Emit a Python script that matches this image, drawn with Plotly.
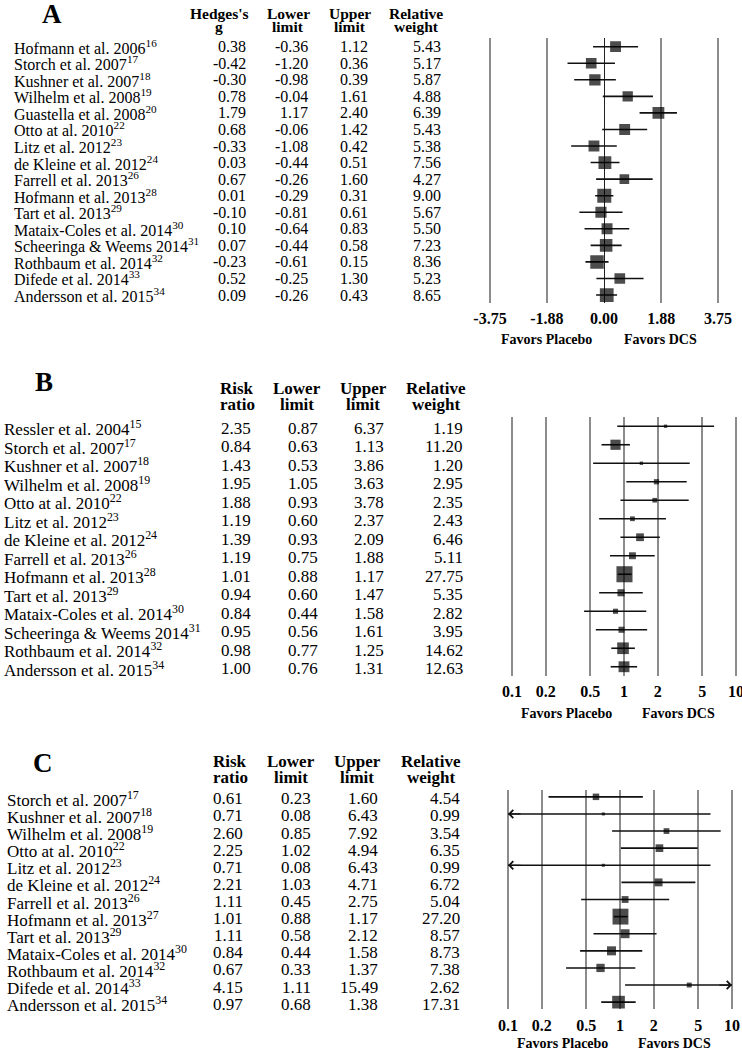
import numpy as np
import plotly.graph_objects as go

W, H = 742, 1050
SERIF = "Liberation Serif"

# ---------------- Panel A : Hedges's g ----------------
studies_a = ["Hofmann et al. 2006", "Storch et al. 2007", "Kushner et al. 2007", "Wilhelm et al. 2008",
             "Guastella et al. 2008", "Otto at al. 2010", "Litz et al. 2012", "de Kleine et al. 2012",
             "Farrell et al. 2013", "Hofmann et al. 2013", "Tart et al. 2013", "Mataix-Coles et al. 2014",
             "Scheeringa & Weems 2014", "Rothbaum et al. 2014", "Difede et al. 2014", "Andersson et al. 2015"]
refs_a = ["16", "17", "18", "19", "20", "22", "23", "24", "26", "28", "29", "30", "31", "32", "33", "34"]
g_a = [0.38, -0.42, -0.30, 0.78, 1.79, 0.68, -0.33, 0.03, 0.67, 0.01, -0.10, 0.10, 0.07, -0.23, 0.52, 0.09]
lo_a = [-0.36, -1.20, -0.98, -0.04, 1.17, -0.06, -1.08, -0.44, -0.26, -0.29, -0.81, -0.64, -0.44, -0.61, -0.25, -0.26]
hi_a = [1.12, 0.36, 0.39, 1.61, 2.40, 1.42, 0.42, 0.51, 1.60, 0.31, 0.61, 0.83, 0.58, 0.15, 1.30, 0.43]
w_a = [5.43, 5.17, 5.87, 4.88, 6.39, 5.43, 5.38, 7.56, 4.27, 9.00, 5.67, 5.50, 7.23, 8.36, 5.23, 8.65]
ticks_a = [-3.75, -1.88, 0.00, 1.88, 3.75]

# ---------------- Panel B : Risk ratio ----------------
studies_b = ["Ressler et al. 2004", "Storch et al. 2007", "Kushner et al. 2007", "Wilhelm et al. 2008",
             "Otto at al. 2010", "Litz et al. 2012", "de Kleine et al. 2012", "Farrell et al. 2013",
             "Hofmann et al. 2013", "Tart et al. 2013", "Mataix-Coles et al. 2014", "Scheeringa & Weems 2014",
             "Rothbaum et al. 2014", "Andersson et al. 2015"]
refs_b = ["15", "17", "18", "19", "22", "23", "24", "26", "28", "29", "30", "31", "32", "34"]
rr_b = [2.35, 0.84, 1.43, 1.95, 1.88, 1.19, 1.39, 1.19, 1.01, 0.94, 0.84, 0.95, 0.98, 1.00]
lo_b = [0.87, 0.63, 0.53, 1.05, 0.93, 0.60, 0.93, 0.75, 0.88, 0.60, 0.44, 0.56, 0.77, 0.76]
hi_b = [6.37, 1.13, 3.86, 3.63, 3.78, 2.37, 2.09, 1.88, 1.17, 1.47, 1.58, 1.61, 1.25, 1.31]
w_b = [1.19, 11.20, 1.20, 2.95, 2.35, 2.43, 6.46, 5.11, 27.75, 5.35, 2.82, 3.95, 14.62, 12.63]

# ---------------- Panel C : Risk ratio ----------------
studies_c = ["Storch et al. 2007", "Kushner et al. 2007", "Wilhelm et al. 2008", "Otto at al. 2010",
             "Litz et al. 2012", "de Kleine et al. 2012", "Farrell et al. 2013", "Hofmann et al. 2013",
             "Tart et al. 2013", "Mataix-Coles et al. 2014", "Rothbaum et al. 2014", "Difede et al. 2014",
             "Andersson et al. 2015"]
refs_c = ["17", "18", "19", "22", "23", "24", "26", "27", "29", "30", "32", "33", "34"]
rr_c = [0.61, 0.71, 2.60, 2.25, 0.71, 2.21, 1.11, 1.01, 1.11, 0.84, 0.67, 4.15, 0.97]
lo_c = [0.23, 0.08, 0.85, 1.02, 0.08, 1.03, 0.45, 0.88, 0.58, 0.44, 0.33, 1.11, 0.68]
hi_c = [1.60, 6.43, 7.92, 4.94, 6.43, 4.71, 2.75, 1.17, 2.12, 1.58, 1.37, 15.49, 1.38]
w_c = [4.54, 0.99, 3.54, 6.35, 0.99, 6.72, 5.04, 27.20, 8.57, 8.73, 7.38, 2.62, 17.31]

ticks_rr = [0.1, 0.2, 0.5, 1, 2, 5, 10]


def fx(p):
    return p / W


def fy(p):
    return 1 - p / H


panels = [
    dict(letter="A", names=studies_a, refs=refs_a, est=g_a, lo=lo_a, hi=hi_a, wt=w_a,
         head1=["Hedges's", "Lower", "Upper", "Relative"], head2=["g", "limit", "limit", "weight"],
         xa="x", ya="y", log=False, clip=None, ksize=4.67,
         letter_xy=(52, 14), head_x=[219, 288, 350, 416], head_y=(13, 27), head_size=15.5,
         name_x=12, col_x=[248, 310, 370, 443], font=16, yshift=0,
         fav_x=(546, 660), fav_y=340),
    dict(letter="B", names=studies_b, refs=refs_b, est=rr_b, lo=lo_b, hi=hi_b, wt=w_b,
         head1=["Risk", "Lower", "Upper", "Relative"], head2=["ratio", "limit", "limit", "weight"],
         xa="x2", ya="y2", log=True, clip=(0.1, 10), ksize=3.05,
         letter_xy=(44, 382), head_x=[237, 297, 363, 436], head_y=(388, 404), head_size=17,
         name_x=2, col_x=[253, 320, 386, 465], font=17, yshift=-2,
         fav_x=(566, 678), fav_y=713),
    dict(letter="C", names=studies_c, refs=refs_c, est=rr_c, lo=lo_c, hi=hi_c, wt=w_c,
         head1=["Risk", "Lower", "Upper", "Relative"], head2=["ratio", "limit", "limit", "weight"],
         xa="x3", ya="y3", log=True, clip=(0.1, 10), ksize=3.05,
         letter_xy=(43, 763), head_x=[230, 291, 357, 431], head_y=(761, 777), head_size=17,
         name_x=5, col_x=[245, 313, 380, 462], font=17, yshift=-2,
         fav_x=(562, 674), fav_y=1043),
]

fig = go.Figure()
annotations = []

for p in panels:
    est, lo, hi = p["est"], p["lo"], p["hi"]
    cx, cy = [], []
    for i in range(len(est)):
        a, b = lo[i], hi[i]
        if p["clip"]:
            a, b = max(a, p["clip"][0]), min(b, p["clip"][1])
        cx += [a, b, None]
        cy += [i, i, None]
    fig.add_trace(go.Scatter(x=cx, y=cy, mode="lines", xaxis=p["xa"], yaxis=p["ya"],
                             line=dict(color="#111111", width=1.6), hoverinfo="skip"))
    fig.add_trace(go.Scatter(x=est, y=list(range(len(est))), mode="markers",
                             xaxis=p["xa"], yaxis=p["ya"],
                             marker=dict(symbol="square", color="black",
                                         size=[p["ksize"] * np.sqrt(w) for w in p["wt"]],
                                         line=dict(width=0))))
    # arrows for truncated CIs
    if p["clip"]:
        for i in range(len(est)):
            if lo[i] < p["clip"][0]:
                annotations.append(dict(x=np.log10(p["clip"][0]), y=i, xref=p["xa"], yref=p["ya"],
                                        ax=14, ay=0, text="", showarrow=True, arrowhead=4,
                                        arrowsize=1.3, arrowwidth=1.2, arrowcolor="#111111"))
            if hi[i] > p["clip"][1]:
                annotations.append(dict(x=np.log10(p["clip"][1]), y=i, xref=p["xa"], yref=p["ya"],
                                        ax=-14, ay=0, text="", showarrow=True, arrowhead=4,
                                        arrowsize=1.3, arrowwidth=1.2, arrowcolor="#111111"))

    # panel letter
    annotations.append(dict(x=fx(p["letter_xy"][0]), y=fy(p["letter_xy"][1]), xref="paper", yref="paper",
                            text=p["letter"], showarrow=False, xanchor="center", yanchor="middle",
                            font=dict(family=SERIF, size=27, color="black", weight="bold")))
    # headers
    for hx, t1, t2 in zip(p["head_x"], p["head1"], p["head2"]):
        for t, hy in ((t1, p["head_y"][0]), (t2, p["head_y"][1])):
            annotations.append(dict(x=fx(hx), y=fy(hy), xref="paper", yref="paper", text=t,
                                    showarrow=False, xanchor="center", yanchor="middle",
                                    font=dict(family=SERIF, size=p["head_size"], color="black",
                                              weight="bold")))
    # table rows
    tfont = dict(family=SERIF, size=p["font"], color="black")
    for i, name in enumerate(p["names"]):
        annotations.append(dict(x=fx(p["name_x"]), y=i, xref="paper", yref=p["ya"],
                                text=f"{name}<sup>{p['refs'][i]}</sup>", showarrow=False,
                                xanchor="left", yanchor="middle", yshift=p["yshift"], font=tfont))
        for cxp, v in zip(p["col_x"], (est[i], lo[i], hi[i], p["wt"][i])):
            annotations.append(dict(x=fx(cxp), y=i, xref="paper", yref=p["ya"], text=f"{v:.2f}",
                                    showarrow=False, xanchor="right", yanchor="middle",
                                    yshift=p["yshift"], font=tfont))
    # favors labels
    for fxp, t in zip(p["fav_x"], ("Favors Placebo", "Favors DCS")):
        annotations.append(dict(x=fx(fxp), y=fy(p["fav_y"]), xref="paper", yref="paper", text=t,
                                showarrow=False, xanchor="center", yanchor="middle",
                                font=dict(family=SERIF, size=14, color="black", weight="bold")))

grid = dict(showgrid=True, gridcolor="#8c8c8c", gridwidth=2, showline=False, automargin=False,
            ticks="outside", tickcolor="rgba(0,0,0,0)", ticklabeloverflow="allow",
            tickfont=dict(family=SERIF, size=16, color="black", weight="bold"))

fig.update_layout(
    width=W, height=H,
    margin=dict(l=0, r=0, t=0, b=0, pad=0, autoexpand=False),
    template="plotly_white",
    plot_bgcolor="white", paper_bgcolor="white",
    showlegend=False,
    annotations=annotations,
    xaxis=dict(domain=[fx(480), 1], anchor="y", range=[(480 - 604) / 30.4, (742 - 604) / 30.4],
               tickvals=ticks_a, ticktext=[f"{t:.2f}" for t in ticks_a], ticklen=0,
               zeroline=True, zerolinecolor="#222222", zerolinewidth=1, **grid),
    yaxis=dict(domain=[fy(303.3), fy(38.4)], range=[15.5, -0.5], visible=False, automargin=False),
    xaxis2=dict(domain=[fx(480), 1], anchor="y2", type="log",
                range=[-1 + (480 - 512) / 112, -1 + (742 - 512) / 112], ticklen=1,
                tickvals=ticks_rr, ticktext=[f"{t:g}" for t in ticks_rr], zeroline=False, **grid),
    yaxis2=dict(domain=[fy(676), fy(417)], range=[13.5, -0.5], visible=False, automargin=False),
    xaxis3=dict(domain=[fx(480), 1], anchor="y3", type="log",
                range=[-1 + (480 - 508) / 112, -1 + (742 - 508) / 112], ticklen=2,
                tickvals=ticks_rr, ticktext=[f"{t:g}" for t in ticks_rr], zeroline=False, **grid),
    yaxis3=dict(domain=[fy(1009), fy(790)], range=[12.4, -0.4], visible=False, automargin=False),
)

fig.write_html("out.html", config={"displayModeBar": False},
               post_script="document.body.style.margin = '0';")
